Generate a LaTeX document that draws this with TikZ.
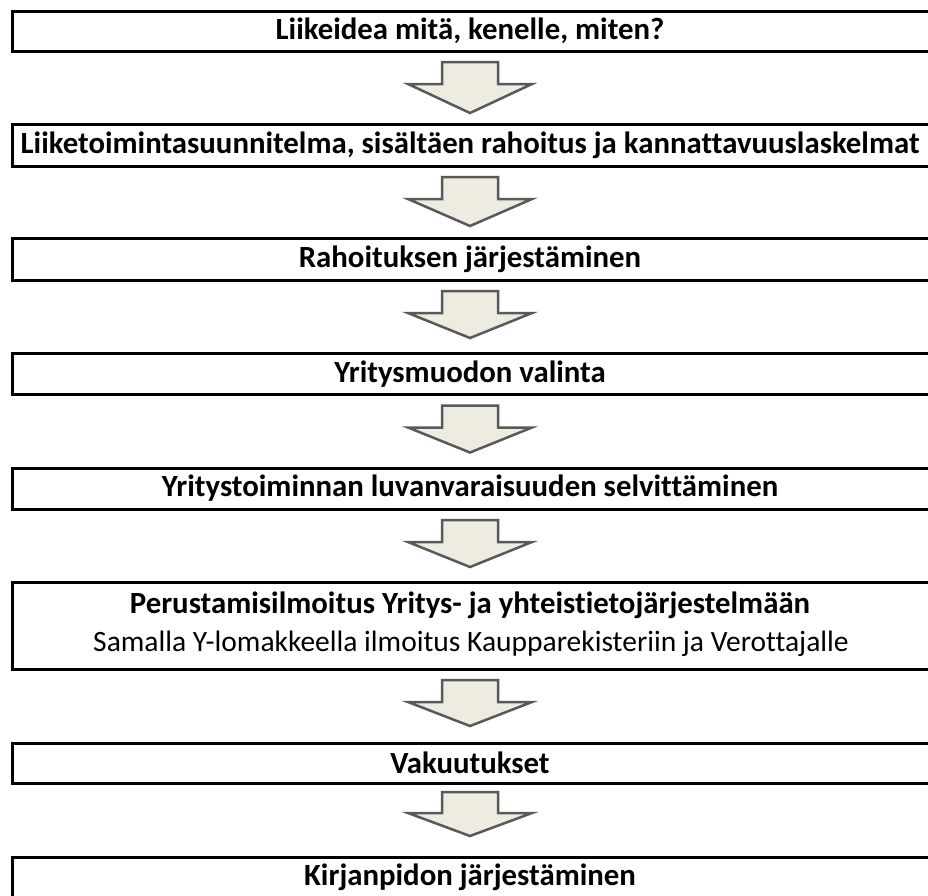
\documentclass[tikz,border=0pt]{standalone}
\usepackage{fontspec}
\setmainfont[Ligatures=NoCommon]{Carlito}
\usetikzlibrary{calc}
\definecolor{arrfill}{HTML}{EEECE1}
\definecolor{arrline}{HTML}{595959}
\tikzset{
  box/.style={draw=black, line width=3pt, minimum width=924pt, inner sep=0pt, outer sep=0pt},
  lbl/.style={font=\fontsize{30.8}{36}\selectfont\bfseries, inner sep=0pt},
  lblr/.style={font=\fontsize{29.5}{36}\selectfont, inner sep=0pt},
  blk/.style={draw=arrline, fill=arrfill, line width=2.5pt, line join=miter}
}
% #1 upper box, #2 shaft-top offset, #3 wing offset, #4 tip offset (all in pt below #1.south)
\newcommand{\blockarr}[4]{%
  \draw[blk] let \p1=(#1.south) in
    (442pt,\y1-#2pt) -- (498pt,\y1-#2pt) -- (498pt,\y1-#3pt) -- (532pt,\y1-#3pt)
    -- (470pt,\y1-#4pt) -- (408pt,\y1-#3pt) -- (442pt,\y1-#3pt) -- cycle;}
\begin{document}
\begin{tikzpicture}[x=1pt,y=-1pt]
\clip (0,0) rectangle (928,895);
\fill[white] (0,0) rectangle (928,895);
% boxes
\node[box, minimum height=40pt] (b1) at (474,31) {};
\node[box, minimum height=42pt] (b2) at (474,145) {};
\node[box, minimum height=42pt] (b3) at (474,259) {};
\node[box, minimum height=41pt] (b4) at (474,374) {};
\node[box, minimum height=41pt] (b5) at (474,488.5) {};
\node[box, minimum height=87pt] (b6) at (474,625.5) {};
\node[box, minimum height=40pt] (b7) at (474,763) {};
\node[box, minimum height=41pt] (b8) at (474,877.5) {};
% texts
\node[lbl] (t1) at (470,31) {Liikeidea mitä, kenelle, miten?};
\node[lbl] (t2) at (470,145) {Liiketoimintasuunnitelma, sisältäen rahoitus ja kannattavuuslaskelmat};
\node[lbl] (t3) at (470,259) {Rahoituksen järjestäminen};
\node[lbl] (t4) at (470,374) {Yritysmuodon valinta};
\node[lbl] (t5) at (470,488.5) {Yritystoiminnan luvanvaraisuuden selvittäminen};
\node[lbl] (t6a) at (470,605) {Perustamisilmoitus Yritys- ja yhteistietojärjestelmään};
\node[lblr] (t6b) at (471,644) {Samalla Y-lomakkeella ilmoitus Kaupparekisteriin ja Verottajalle};
\node[lbl] (t7) at (470,763) {Vakuutukset};
\node[lbl] (t8) at (470,877.5) {Kirjanpidon järjestäminen};
% block arrows
\blockarr{b1}{11}{33}{62}
\blockarr{b2}{11}{33}{60}
\blockarr{b3}{11}{33}{58}
\blockarr{b4}{11}{33}{58}
\blockarr{b5}{11}{33}{58}
\blockarr{b6}{11}{33}{57}
\blockarr{b7}{9}{30}{53}
\end{tikzpicture}
\end{document}
